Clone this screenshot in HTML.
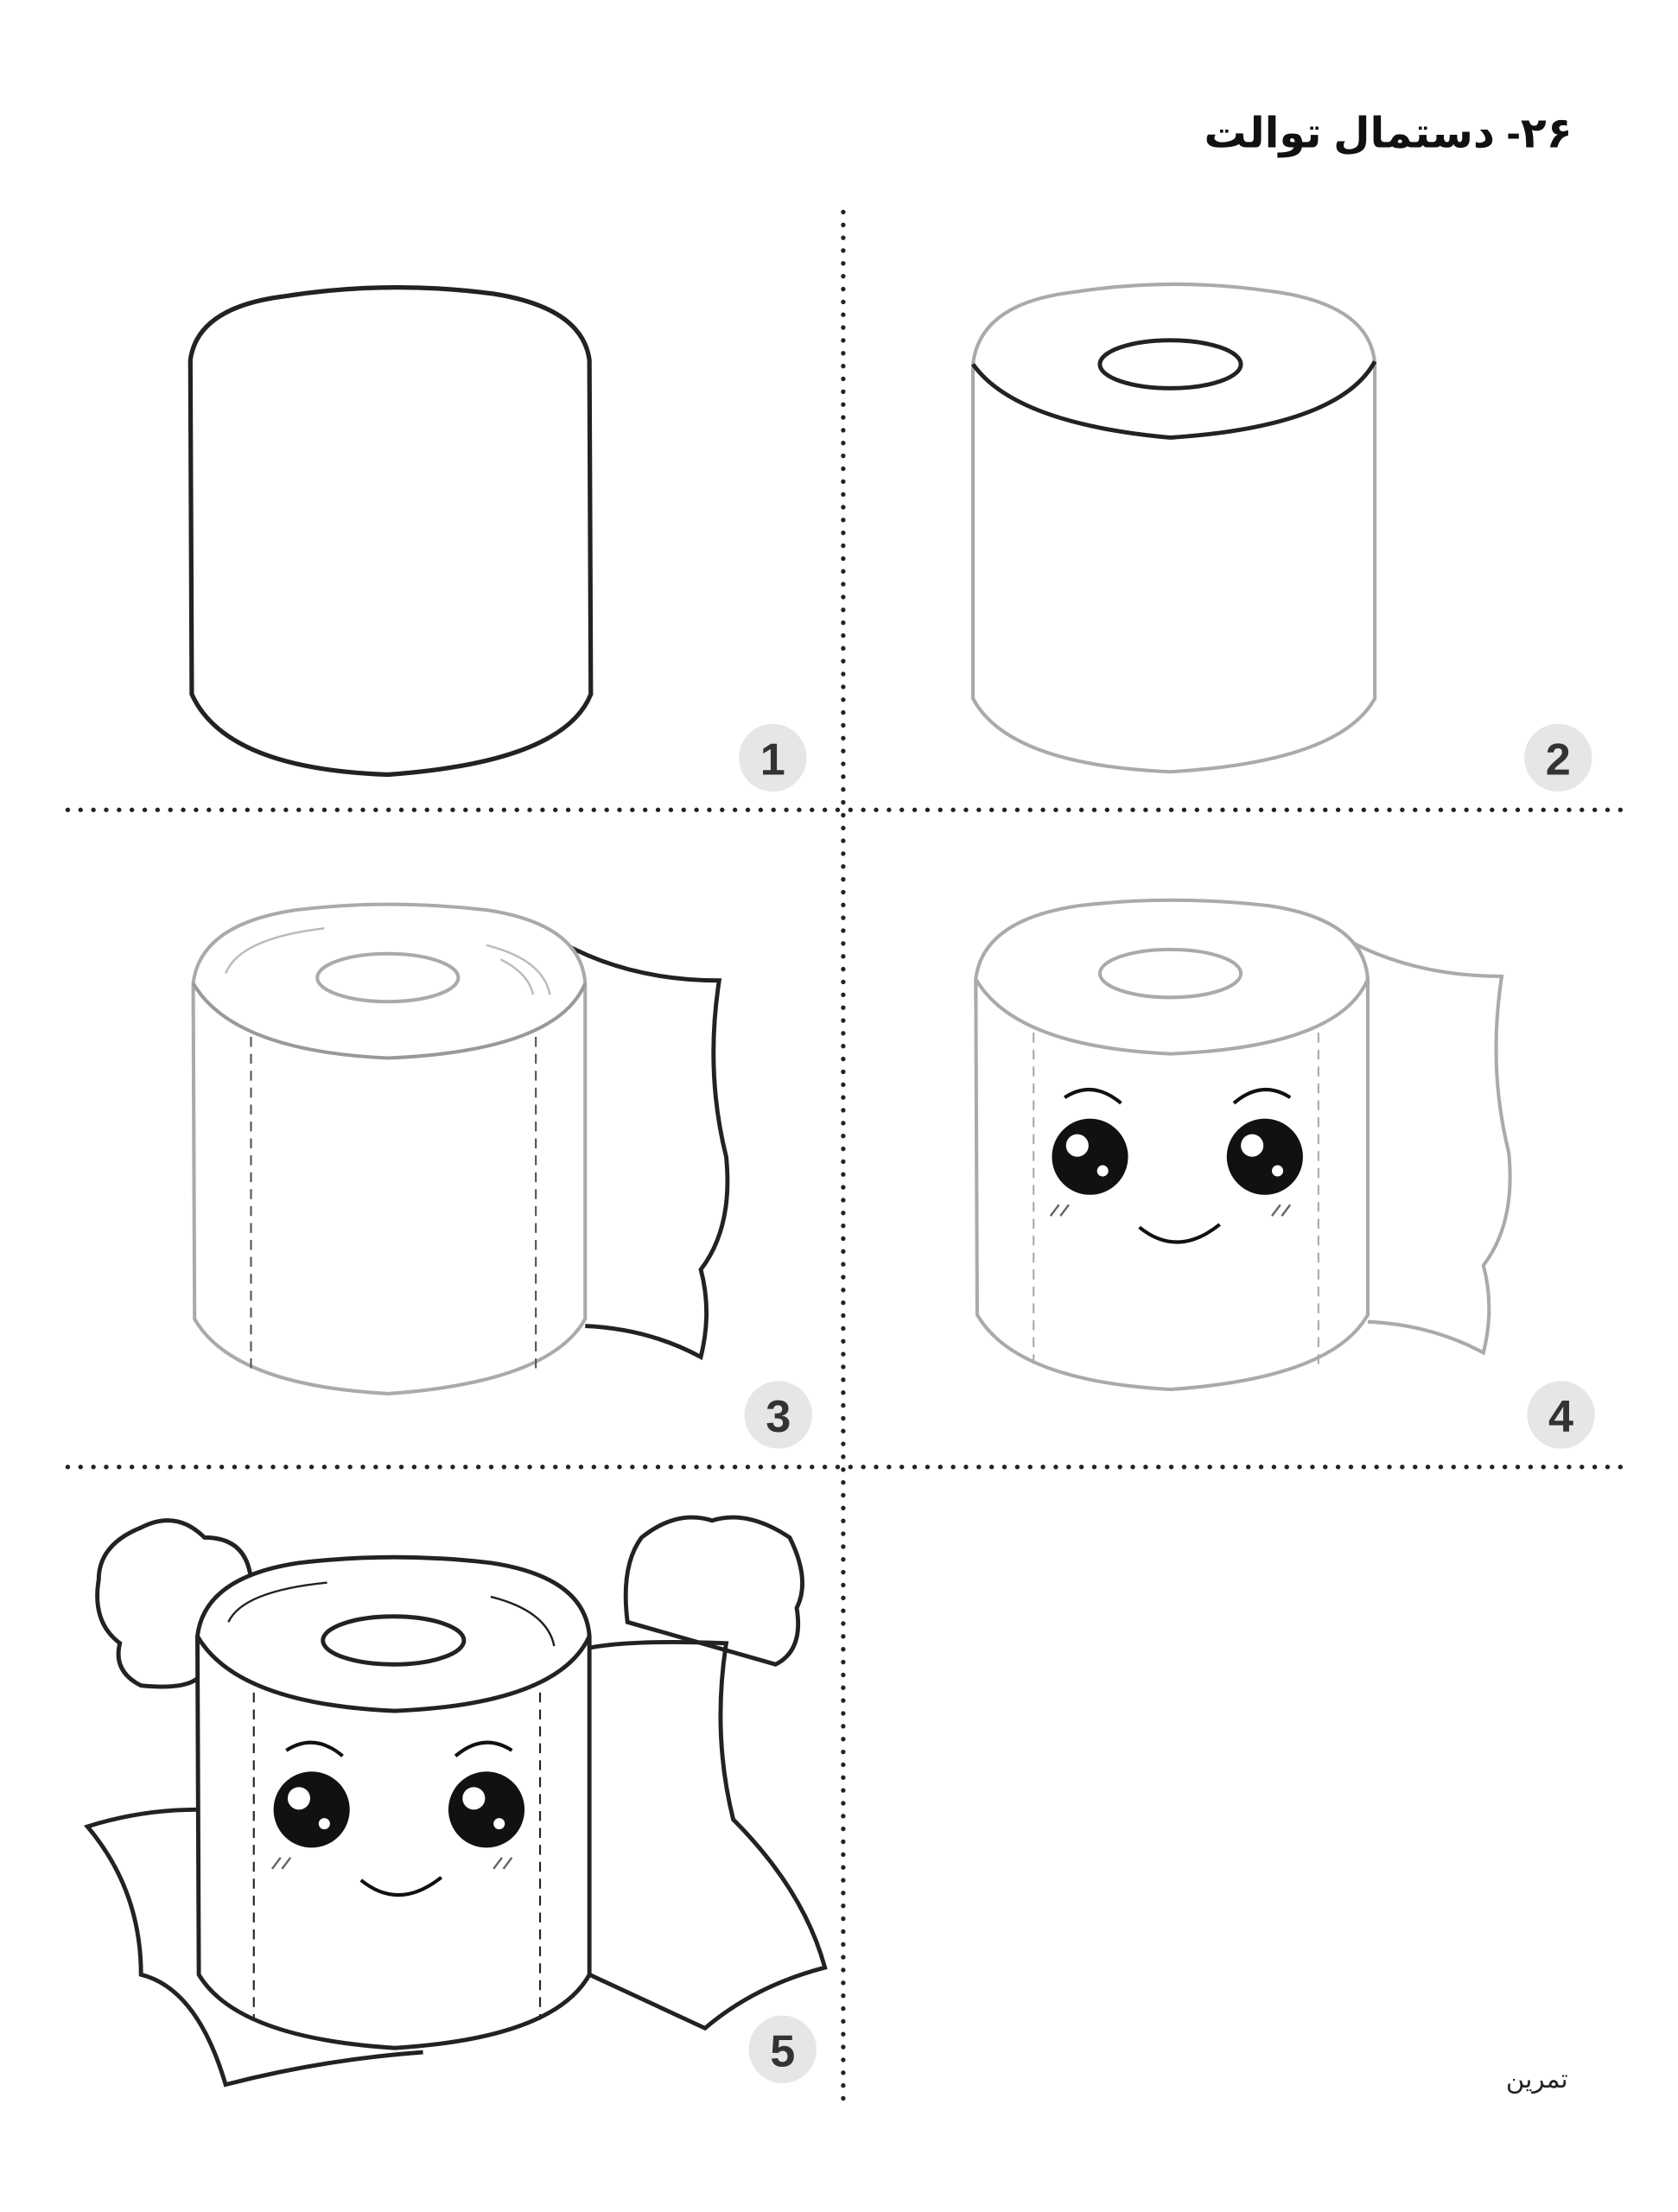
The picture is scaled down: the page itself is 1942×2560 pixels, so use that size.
<!DOCTYPE html>
<html><head><meta charset="utf-8"><style>
html,body{margin:0;padding:0;background:#fff;}
svg{display:block}
</style></head><body>
<svg width="1942" height="2560" viewBox="0 0 1190 1568" xmlns="http://www.w3.org/2000/svg" font-family="Liberation Sans, DejaVu Sans, sans-serif">
<rect width="1190" height="1568" fill="#fff"/>
<text x="1115" y="104" direction="rtl" unicode-bidi="embed" text-anchor="start" font-size="30" font-weight="bold" fill="#111">۲۶- دستمال توالت</text>
<g stroke="#222" stroke-width="3.2" stroke-dasharray="0.1 9" stroke-linecap="round" fill="none">
<line x1="598" y1="150" x2="598" y2="1495"/>
<line x1="48" y1="574" x2="1155" y2="574"/>
<line x1="48" y1="1040" x2="1155" y2="1040"/>
</g>
<g fill="#e6e6e6"><circle cx="548" cy="537" r="24"/><circle cx="1105" cy="537" r="24"/><circle cx="552" cy="1003" r="24"/><circle cx="1107" cy="1003" r="24"/><circle cx="555" cy="1453" r="24"/></g>
<g font-size="32" font-weight="bold" fill="#333" text-anchor="middle">
<text x="548" y="549">1</text><text x="1105" y="549">2</text><text x="552" y="1015">3</text><text x="1107" y="1015">4</text><text x="555" y="1465">5</text></g>
<text x="1090" y="1480" text-anchor="middle" font-size="18" fill="#222">تمرین</text>

<g fill="none" stroke="#222" stroke-width="3.2">
<path d="M135,255 Q140,218 200,210 Q275,198 350,208 Q413,218 418,255 L419,492 Q400,540 275,549 Q160,545 136,492 Z"/>
</g>
<g fill="none" stroke="#aaa" stroke-width="2.5">
<path d="M690,258 Q695,215 760,207 Q830,196 900,206 Q972,215 975,258 L975,495 Q950,540 830,547 Q715,542 690,495 Z"/>
</g>
<g fill="none" stroke="#222" stroke-width="3">
<path d="M690,258 Q720,300 830,310 Q950,302 975,256"/>
<ellipse cx="830" cy="258" rx="50" ry="17"/>
</g>
<g fill="none">
<path d="M388,662 Q440,695 510,695 Q500,760 515,820 Q520,870 497,900 Q505,930 497,962 Q460,942 415,940" stroke="#222" stroke-width="3"/>
<path d="M137,697 Q142,655 210,645 Q275,637 345,645 Q412,655 415,697 L415,935 Q390,980 275,988 Q165,982 138,935 Z" stroke="#aaa" stroke-width="2.5" fill="#fff"/>
<path d="M137,697 Q165,745 275,750 Q395,745 415,697" stroke="#999" stroke-width="2.5"/>
<ellipse cx="275" cy="693" rx="50" ry="17" stroke="#aaa" stroke-width="2.5"/>
<path d="M160,690 Q170,665 230,658 M345,670 Q385,680 390,705 M355,680 Q375,690 378,705" stroke="#bbb" stroke-width="1.5"/>
<g stroke="#555" stroke-width="1.3" stroke-dasharray="7 5"><line x1="178" y1="735" x2="178" y2="970"/><line x1="380" y1="735" x2="380" y2="970"/></g>
</g>
<g transform="translate(555,-3)" fill="none">
<path d="M388,662 Q440,695 510,695 Q500,760 515,820 Q520,870 497,900 Q505,930 497,962 Q460,942 415,940" stroke="#aaa" stroke-width="2.5"/>
<path d="M137,697 Q142,655 210,645 Q275,637 345,645 Q412,655 415,697 L415,935 Q390,980 275,988 Q165,982 138,935 Z" stroke="#aaa" stroke-width="2.5" fill="#fff"/>
<path d="M137,697 Q165,745 275,750 Q395,745 415,697" stroke="#aaa" stroke-width="2.5"/>
<ellipse cx="275" cy="693" rx="50" ry="17" stroke="#aaa" stroke-width="2.5"/>
<g stroke="#aaa" stroke-width="1.3" stroke-dasharray="7 5"><line x1="178" y1="735" x2="178" y2="970"/><line x1="380" y1="735" x2="380" y2="970"/></g>
</g>
<g>
<circle cx="773" cy="820" r="27" fill="#111"/><circle cx="897" cy="820" r="27" fill="#111"/>
<circle cx="764" cy="812" r="8" fill="#fff"/><circle cx="888" cy="812" r="8" fill="#fff"/>
<circle cx="782" cy="830" r="4" fill="#fff"/><circle cx="906" cy="830" r="4" fill="#fff"/>
<g fill="none" stroke="#111" stroke-width="2.5">
<path d="M755,778 Q775,765 795,782"/><path d="M875,782 Q895,765 915,778"/>
<path d="M808,870 Q835,892 865,868"/></g>
<g stroke="#666" stroke-width="1.5"><path d="M745,862 l6,-8 M752,862 l6,-8 M902,862 l6,-8 M909,862 l6,-8"/></g>
</g>
<g fill="none" stroke="#222" stroke-width="3">
<path d="M100,1083 Q125,1070 145,1090 Q175,1090 178,1120 L140,1190 Q130,1198 100,1195 Q80,1185 85,1165 Q65,1150 70,1120 Q70,1095 100,1083 Z" fill="#fff"/>
<path d="M455,1090 Q480,1070 505,1078 Q530,1070 560,1090 Q575,1120 565,1140 Q570,1170 550,1180 L445,1150 Q440,1110 455,1090 Z" fill="#fff"/>
<path d="M140,1283 Q100,1283 62,1295 Q100,1340 100,1400 Q140,1410 160,1478 Q230,1460 300,1455 M410,1170 Q440,1162 515,1165 Q505,1230 520,1290 Q570,1340 585,1395 Q535,1408 500,1438 L418,1400"/>
<path d="M140,1160 Q145,1118 212,1108 Q280,1100 348,1108 Q415,1118 418,1160 L418,1400 Q393,1445 280,1452 Q168,1445 141,1400 Z" fill="#fff"/>
<path d="M140,1160 Q168,1208 280,1213 Q396,1208 418,1160"/>
<ellipse cx="279" cy="1163" rx="50" ry="17"/>
<path d="M162,1150 Q172,1128 232,1122 M348,1132 Q388,1142 393,1167" stroke-width="1.5"/>
<g stroke-width="1.3" stroke-dasharray="7 5"><line x1="180" y1="1200" x2="180" y2="1432"/><line x1="383" y1="1200" x2="383" y2="1432"/></g>
</g>
<g transform="translate(-552,463)">
<circle cx="773" cy="820" r="27" fill="#111"/><circle cx="897" cy="820" r="27" fill="#111"/>
<circle cx="764" cy="812" r="8" fill="#fff"/><circle cx="888" cy="812" r="8" fill="#fff"/>
<circle cx="782" cy="830" r="4" fill="#fff"/><circle cx="906" cy="830" r="4" fill="#fff"/>
<g fill="none" stroke="#111" stroke-width="2.5">
<path d="M755,778 Q775,765 795,782"/><path d="M875,782 Q895,765 915,778"/>
<path d="M808,870 Q835,892 865,868"/></g>
<g stroke="#666" stroke-width="1.5"><path d="M745,862 l6,-8 M752,862 l6,-8 M902,862 l6,-8 M909,862 l6,-8"/></g>
</g>
</svg>
</body></html>
